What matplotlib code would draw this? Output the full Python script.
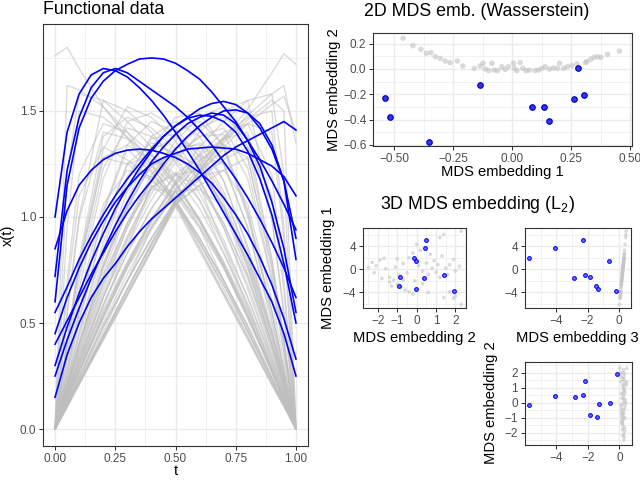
"""Functional data curves next to 2D / 3D MDS embeddings, redrawn with matplotlib."""

from __future__ import annotations

import matplotlib

matplotlib.use("Agg")
import matplotlib.pyplot as plt

OUT_PATH = "out.png"
W_PX, H_PX = 640, 480

# ---------------------------------------------------------------- functional data
T_GRAY = [0.0, 0.05, 0.1, 0.2, 0.3, 0.4, 0.5, 0.6, 0.7, 0.8, 0.9, 0.95, 1.0]
GRAY_CURVES = [
    [1.76, 1.80, 1.70, 1.52, 1.37, 1.22, 1.06, 0.88, 0.68, 0.46, 0.23, 0.12, 0.0],
    [0.0, 0.10, 0.21, 0.42, 0.63, 0.84, 1.05, 1.22, 1.37, 1.51, 1.68, 1.77, 1.72],
    [0.0, 0.11, 0.22, 0.44, 0.66, 0.87, 1.06, 1.22, 1.36, 1.48, 1.58, 1.62, 1.35],
    [0.0, 0.11, 0.22, 0.44, 0.66, 0.87, 1.07, 1.21, 1.33, 1.44, 1.53, 1.57, 1.40],
    [0.0, 0.11, 0.22, 0.44, 0.66, 0.87, 1.07, 1.22, 1.35, 1.46, 1.55, 1.50, 0.0],
    [0.0, 1.62, 1.60, 1.52, 1.40, 1.25, 1.07, 0.88, 0.68, 0.46, 0.23, 0.12, 0.0],
    [0.0, 1.20, 1.58, 1.55, 1.45, 1.33, 1.17, 0.98, 0.77, 0.53, 0.28, 0.14, 0.0],
    [0.0, 0.95, 1.50, 1.47, 1.38, 1.24, 1.08, 0.90, 0.70, 0.49, 0.25, 0.13, 0.0],
    [0.0, 0.70, 1.20, 1.44, 1.40, 1.30, 1.16, 0.99, 0.79, 0.56, 0.30, 0.15, 0.0],
    [0.0, 0.55, 1.00, 1.55, 1.50, 1.40, 1.26, 1.08, 0.87, 0.62, 0.33, 0.17, 0.0],
    [0.0, 0.54, 0.99, 1.40, 1.37, 1.29, 1.16, 0.99, 0.78, 0.54, 0.27, 0.14, 0.0],
    [0.0, 0.41, 0.77, 1.28, 1.25, 1.17, 1.07, 0.86, 0.64, 0.43, 0.21, 0.11, 0.0],
    [0.0, 0.42, 0.80, 1.38, 1.47, 1.42, 1.32, 1.17, 0.97, 0.72, 0.40, 0.21, 0.0],
    [0.0, 0.37, 0.71, 1.23, 1.42, 1.38, 1.28, 1.11, 0.89, 0.62, 0.32, 0.16, 0.0],
    [0.0, 0.28, 0.55, 1.02, 1.32, 1.21, 1.07, 0.90, 0.70, 0.48, 0.24, 0.12, 0.0],
    [0.0, 0.32, 0.61, 1.06, 1.22, 1.19, 1.10, 0.95, 0.76, 0.53, 0.27, 0.14, 0.0],
    [0.0, 0.34, 0.66, 1.18, 1.45, 1.49, 1.42, 1.28, 1.07, 0.80, 0.45, 0.23, 0.0],
    [0.0, 0.28, 0.56, 1.03, 1.34, 1.45, 1.40, 1.26, 1.03, 0.73, 0.38, 0.19, 0.0],
    [0.0, 0.26, 0.52, 0.95, 1.25, 1.35, 1.30, 1.17, 0.95, 0.68, 0.35, 0.18, 0.0],
    [0.0, 0.20, 0.40, 0.76, 1.05, 1.25, 1.13, 0.96, 0.76, 0.52, 0.27, 0.13, 0.0],
    [0.0, 0.14, 0.29, 0.58, 0.86, 1.15, 1.06, 0.85, 0.64, 0.43, 0.21, 0.11, 0.0],
    [0.0, 0.23, 0.46, 0.88, 1.19, 1.37, 1.39, 1.29, 1.10, 0.82, 0.46, 0.24, 0.0],
    [0.0, 0.105, 0.21, 0.42, 0.63, 0.84, 1.05, 0.84, 0.63, 0.42, 0.21, 0.105, 0.0],
    [0.0, 0.12, 0.24, 0.48, 0.70, 0.90, 1.08, 0.90, 0.70, 0.48, 0.24, 0.12, 0.0],
    [0.0, 0.14, 0.28, 0.55, 0.78, 0.98, 1.12, 0.98, 0.78, 0.55, 0.28, 0.14, 0.0],
    [0.0, 0.19, 0.37, 0.71, 0.97, 1.14, 1.20, 1.14, 0.97, 0.71, 0.37, 0.19, 0.0],
    [0.0, 0.20, 0.40, 0.76, 1.05, 1.24, 1.30, 1.24, 1.05, 0.76, 0.40, 0.20, 0.0],
    [0.0, 0.22, 0.43, 0.81, 1.12, 1.31, 1.38, 1.31, 1.12, 0.81, 0.43, 0.22, 0.0],
    [0.0, 0.23, 0.45, 0.85, 1.17, 1.38, 1.45, 1.38, 1.17, 0.85, 0.45, 0.23, 0.0],
    [0.0, 0.15, 0.30, 0.58, 0.83, 1.04, 1.20, 1.22, 1.05, 0.78, 0.43, 0.22, 0.0],
    [0.0, 0.13, 0.27, 0.52, 0.76, 0.96, 1.13, 1.25, 1.05, 0.76, 0.40, 0.20, 0.0],
    [0.0, 0.18, 0.35, 0.68, 0.95, 1.17, 1.30, 1.35, 1.25, 0.95, 0.52, 0.26, 0.0],
    [0.0, 0.19, 0.38, 0.73, 1.03, 1.26, 1.40, 1.45, 1.34, 1.03, 0.56, 0.28, 0.0],
    [0.0, 0.11, 0.22, 0.43, 0.64, 0.85, 1.06, 1.15, 0.86, 0.58, 0.29, 0.14, 0.0],
    [0.0, 0.17, 0.33, 0.64, 0.91, 1.13, 1.29, 1.38, 1.39, 1.18, 0.70, 0.36, 0.0],
    [0.0, 0.16, 0.32, 0.62, 0.89, 1.11, 1.28, 1.38, 1.42, 1.23, 0.71, 0.37, 0.0],
    [0.0, 0.12, 0.24, 0.48, 0.70, 0.90, 1.07, 1.21, 1.32, 1.02, 0.55, 0.28, 0.0],
    [0.0, 0.14, 0.27, 0.53, 0.76, 0.95, 1.10, 1.19, 1.22, 1.06, 0.61, 0.32, 0.0],
    [0.0, 0.21, 0.40, 0.72, 0.97, 1.17, 1.32, 1.42, 1.47, 1.38, 0.80, 0.42, 0.0],
    [0.0, 0.17, 0.33, 0.62, 0.87, 1.08, 1.26, 1.40, 1.50, 1.55, 1.00, 0.55, 0.0],
    [0.0, 0.14, 0.27, 0.54, 0.78, 0.99, 1.16, 1.29, 1.37, 1.40, 0.99, 0.54, 0.0],
    [0.0, 0.11, 0.22, 0.43, 0.64, 0.85, 1.06, 1.15, 1.22, 1.28, 0.77, 0.41, 0.0],
    [0.0, 0.12, 0.25, 0.50, 0.73, 0.94, 1.12, 1.26, 1.37, 1.44, 1.40, 0.90, 0.0],
    [0.0, 0.14, 0.28, 0.53, 0.77, 0.98, 1.17, 1.33, 1.45, 1.55, 1.58, 1.20, 0.0],
    [0.0, 0.13, 0.25, 0.49, 0.70, 0.90, 1.08, 1.24, 1.38, 1.47, 1.50, 0.95, 0.0],
    [0.0, 0.15, 0.30, 0.56, 0.79, 0.99, 1.16, 1.30, 1.40, 1.44, 1.20, 0.70, 0.0],
    [0.0, 0.20, 0.40, 0.78, 1.05, 1.13, 1.12, 0.95, 0.70, 0.46, 0.23, 0.12, 0.0],
    [0.0, 0.12, 0.23, 0.46, 0.70, 0.95, 1.12, 1.13, 1.05, 0.78, 0.40, 0.20, 0.0],
    [0.0, 0.15, 0.31, 0.62, 0.90, 1.14, 1.21, 1.08, 0.83, 0.57, 0.29, 0.15, 0.0],
    [0.0, 0.18, 0.36, 0.69, 0.97, 1.20, 1.33, 1.34, 1.17, 0.86, 0.47, 0.24, 0.0],
    [0.0, 0.25, 0.50, 0.95, 1.25, 1.29, 1.20, 1.04, 0.83, 0.59, 0.31, 0.16, 0.0],
    [0.0, 0.16, 0.31, 0.59, 0.83, 1.04, 1.20, 1.29, 1.25, 0.95, 0.50, 0.25, 0.0],
    [0.0, 0.40, 0.75, 1.28, 1.34, 1.27, 1.15, 0.98, 0.77, 0.53, 0.27, 0.14, 0.0],
    [0.0, 0.14, 0.27, 0.53, 0.77, 0.98, 1.15, 1.27, 1.34, 1.28, 0.75, 0.40, 0.0],
    [0.0, 0.65, 1.10, 1.33, 1.27, 1.18, 1.08, 0.88, 0.66, 0.44, 0.22, 0.11, 0.0],
    [0.0, 0.11, 0.22, 0.44, 0.66, 0.88, 1.08, 1.18, 1.27, 1.33, 1.10, 0.65, 0.0],
    [0.0, 0.20, 0.40, 0.77, 1.08, 1.33, 1.47, 1.49, 1.33, 1.00, 0.55, 0.28, 0.0],
    [0.0, 0.17, 0.34, 0.66, 0.95, 1.18, 1.36, 1.47, 1.52, 1.33, 0.80, 0.42, 0.0],
    [0.0, 0.40, 0.78, 1.32, 1.52, 1.47, 1.36, 1.18, 0.95, 0.66, 0.34, 0.17, 0.0],
]

T_BLUE = [0.0, 0.05, 0.1, 0.15, 0.2, 0.25, 0.3, 0.35, 0.4, 0.45, 0.5,
          0.55, 0.6, 0.65, 0.7, 0.75, 0.8, 0.85, 0.9, 0.95, 1.0]
BLUE_CURVES = [
    [1.00, 1.40, 1.58, 1.67, 1.70, 1.69, 1.66, 1.61, 1.55, 1.48, 1.40,
     1.31, 1.22, 1.12, 1.02, 0.92, 0.82, 0.71, 0.60, 0.45, 0.25],
    [0.72, 1.22, 1.47, 1.61, 1.68, 1.70, 1.68, 1.64, 1.60, 1.56, 1.52,
     1.47, 1.41, 1.34, 1.26, 1.18, 1.09, 0.99, 0.88, 0.76, 0.62],
    [0.60, 1.15, 1.42, 1.56, 1.64, 1.69, 1.72, 1.745, 1.75, 1.745, 1.725,
     1.69, 1.65, 1.59, 1.52, 1.45, 1.36, 1.27, 1.17, 1.06, 0.94],
    [0.55, 0.67, 0.80, 0.91, 1.01, 1.10, 1.18, 1.25, 1.32, 1.38, 1.43,
     1.47, 1.51, 1.535, 1.545, 1.53, 1.49, 1.42, 1.32, 1.17, 0.90],
    [0.40, 0.51, 0.62, 0.73, 0.83, 0.93, 1.02, 1.10, 1.17, 1.25, 1.32,
     1.38, 1.43, 1.47, 1.50, 1.505, 1.49, 1.44, 1.34, 1.17, 0.80],
    [0.25, 0.42, 0.57, 0.71, 0.84, 0.96, 1.07, 1.17, 1.26, 1.33, 1.39,
     1.44, 1.47, 1.49, 1.48, 1.44, 1.36, 1.24, 1.07, 0.85, 0.55],
    [0.15, 0.35, 0.50, 0.62, 0.71, 0.78, 0.86, 0.93, 0.99, 1.04, 1.09,
     1.14, 1.19, 1.24, 1.29, 1.33, 1.36, 1.39, 1.42, 1.45, 1.41],
    [0.85, 1.03, 1.15, 1.22, 1.27, 1.30, 1.315, 1.32, 1.315, 1.30, 1.28,
     1.25, 1.21, 1.16, 1.09, 1.01, 0.92, 0.81, 0.68, 0.52, 0.33],
    [0.45, 0.62, 0.76, 0.88, 0.98, 1.07, 1.14, 1.20, 1.25, 1.28, 1.30,
     1.32, 1.325, 1.33, 1.325, 1.32, 1.30, 1.27, 1.24, 1.19, 1.10],
    [0.30, 0.48, 0.64, 0.79, 0.92, 1.04, 1.14, 1.23, 1.31, 1.38, 1.43,
     1.465, 1.48, 1.475, 1.45, 1.40, 1.31, 1.18, 1.01, 0.78, 0.50],
]

# ---------------------------------------------------------------- 2D MDS (Wasserstein)
WASS_GRAY_X = [-0.463, -0.421, -0.387, -0.364, -0.345, -0.326, -0.305, -0.284, -0.263,
               -0.232, -0.209, -0.161, -0.136, -0.124, -0.114, -0.100, -0.086, -0.076,
               -0.062, -0.044, -0.030, -0.016, 0.006, 0.010, 0.020, 0.034, 0.045, 0.059,
               0.073, 0.097, 0.112, 0.126, 0.140, 0.158, 0.175, 0.192, 0.201, 0.218,
               0.234, 0.253, 0.274, 0.312, 0.316, 0.333, 0.347, 0.362, 0.376, 0.405, 0.455]
WASS_GRAY_Y = [0.243, 0.184, 0.155, 0.124, 0.129, 0.097, 0.084, 0.063, 0.050,
               0.063, 0.024, 0.005, 0.024, 0.045, 0.000, -0.013, 0.045, -0.008,
               -0.013, 0.018, -0.003, 0.018, 0.045, 0.005, -0.013, 0.050, 0.005, -0.013,
               -0.008, -0.013, -0.008, 0.005, 0.018, 0.000, 0.008, 0.005, 0.045, 0.005,
               0.018, 0.026, 0.040, 0.050, 0.058, 0.076, 0.092, 0.097, 0.092, 0.116, 0.142]
WASS_BLUE_X = [-0.538, -0.517, -0.352, -0.136, 0.083, 0.133, 0.158, 0.263, 0.281, 0.305]
WASS_BLUE_Y = [-0.232, -0.382, -0.580, -0.126, -0.303, -0.298, -0.408, -0.240, 0.010, -0.208]

# ---------------------------------------------------------------- 3D MDS (L2)
L2_GRAY_E1 = [0.3, 1.2, 0.6, 1.6, 1.9, 0.1, -0.6, -1.6, -1.4, -1.9, -2.6, -3.1, -3.6, -3.9,
              -4.3, -2.2, -1.0, -0.6, 0.4, 1.0, 2.0, 2.8, 4.3, 3.3, 0.6, -0.3, 1.1, -0.9,
              0.2, 1.5, -0.5, 0.8, -1.4, 2.3, 6.0, 5.5, 0.2, -0.9, 0.8, 1.7, -0.3, 0.5,
              6.6, -4.9, -5.0, -4.6, -6.1, -3.9, -2.5, -2.0, -4.0, -2.9, -1.9, 2.6, 1.8]
L2_GRAY_E2 = [-2.5, -2.3, -2.1, -1.9, -1.7, -1.6, -2.2, -1.8, -1.4, -1.2, -1.0, -0.8, -0.6,
              -0.4, -0.2, -1.4, -0.9, -0.5, -1.1, -0.7, -0.4, -0.2, 0.0, 0.2, 0.1, 0.3, 0.5,
              0.6, 0.8, 0.9, 1.0, 1.1, 1.2, 1.3, 1.4, 1.2, 1.5, 1.6, 1.7, 1.9, 2.0, 2.2,
              2.3, 1.4, 1.9, 2.0, 2.3, 1.7, 0.3, -0.1, 0.6, -1.3, -0.7, 0.7, -1.0]
L2_GRAY_E3 = [0.28, 0.31, 0.27, 0.33, 0.34, 0.25, 0.22, 0.20, 0.21, 0.18, 0.16, 0.15, 0.13,
              0.12, 0.11, 0.17, 0.23, 0.24, 0.27, 0.29, 0.33, 0.36, 0.40, 0.37, 0.28, 0.25,
              0.30, 0.22, 0.26, 0.31, 0.24, 0.29, 0.21, 0.34, 0.45, 0.44, 0.26, 0.23, 0.28,
              0.32, 0.25, 0.27, 0.47, 0.09, 0.08, 0.10, 0.03, 0.12, 0.17, 0.19, 0.12, 0.15,
              0.19, 0.35, 0.32]
L2_BLUE_E1 = [5.07, 3.69, 1.98, 1.52, -1.38, -1.51, -1.02, -2.83, -3.35, -3.84]
L2_BLUE_E2 = [0.50, 0.44, -0.16, -0.02, -0.84, 0.35, 1.42, -0.94, -0.06, 1.92]
L2_BLUE_E3 = [-2.32, -4.10, -5.72, -0.61, -1.86, -2.85, -2.18, -1.45, -1.31, -0.16]

# ---------------------------------------------------------------- look
GRID = "#ebebeb"
BORDER = "#333333"
TICK_TEXT = "#4d4d4d"
GRAY_LINE = "#bebebe"
BLUE = "#0000ff"


def px_box(left, top, right, bottom):
    """Axes rectangle given in pixel coordinates measured from the top-left."""
    return [left / W_PX, 1 - bottom / H_PX, (right - left) / W_PX, (bottom - top) / H_PX]


def style_axes(ax, xlim, ylim, xticks, xlabels, yticks, ylabels, xminor, yminor):
    ax.set_xlim(xlim)
    ax.set_ylim(ylim)
    ax.set_xticks(xticks)
    ax.set_xticklabels(xlabels)
    ax.set_yticks(yticks)
    ax.set_yticklabels(ylabels)
    ax.set_xticks(xminor, minor=True)
    ax.set_yticks(yminor, minor=True)
    ax.grid(which="major", color=GRID, linewidth=1.0)
    ax.grid(which="minor", color=GRID, linewidth=0.5)
    ax.set_axisbelow(True)
    ax.tick_params(which="major", length=3.0, width=0.75, color=BORDER,
                   labelcolor=TICK_TEXT, labelsize=8.5, pad=2)
    ax.tick_params(which="minor", length=0)
    for spine in ax.spines.values():
        spine.set_color(BORDER)
        spine.set_linewidth(0.8)


def fig_text(fig, x_px, y_px, text, size=10.6, **kwargs):
    fig.text(x_px / W_PX, 1 - y_px / H_PX, text, fontsize=size,
             ha=kwargs.pop("ha", "center"), va=kwargs.pop("va", "center"), **kwargs)


def draw_functional(fig):
    ax = fig.add_axes(px_box(43, 24, 308, 446))
    for curve in GRAY_CURVES:
        ax.plot(T_GRAY, curve, color=GRAY_LINE, alpha=0.55, linewidth=1.0)
    for curve in BLUE_CURVES:
        ax.plot(T_BLUE, curve, color=BLUE, linewidth=1.2)
    style_axes(ax, (-0.05, 1.05), (-0.08, 1.91),
               [0, 0.25, 0.5, 0.75, 1.0], ["0.00", "0.25", "0.50", "0.75", "1.00"],
               [0, 0.5, 1.0, 1.5], ["0.0", "0.5", "1.0", "1.5"],
               [0.125, 0.375, 0.625, 0.875], [0.25, 0.75, 1.25, 1.75])
    fig_text(fig, 43, 10, "Functional data", size=12.8, ha="left")
    fig_text(fig, 8, 235, "x(t)", rotation=90)
    fig_text(fig, 175.5, 471, "t")


def draw_wasserstein(fig):
    ax = fig.add_axes(px_box(373.3, 33.3, 631.7, 145.7))
    ax.scatter(WASS_GRAY_X, WASS_GRAY_Y, s=16, color="#bdbdbd", alpha=0.55,
               edgecolors="none")
    ax.scatter(WASS_BLUE_X, WASS_BLUE_Y, s=16, facecolor="#3333ff",
               edgecolors="#0000aa", linewidths=0.8, zorder=3)
    style_axes(ax, (-0.589, 0.507), (-0.606, 0.282),
               [-0.5, -0.25, 0, 0.25, 0.5], ["\u22120.50", "\u22120.25", "0.00", "0.25", "0.50"],
               [-0.6, -0.4, -0.2, 0, 0.2], ["\u22120.6", "\u22120.4", "\u22120.2", "0.0", "0.2"],
               [-0.375, -0.125, 0.125, 0.375], [-0.5, -0.3, -0.1, 0.1])
    fig_text(fig, 477, 12, "2D MDS emb. (Wasserstein)", size=12.8)
    fig_text(fig, 502.5, 172, "MDS embedding 1")
    fig_text(fig, 334, 89.5, "MDS embedding 2", rotation=90)


def small_scatter(ax, gx, gy, bx, by):
    ax.scatter(gx, gy, s=7, color="#c4c4c4", alpha=0.6, edgecolors="none")
    ax.scatter(bx, by, s=7, facecolor="#7777ff", edgecolors=BLUE,
               linewidths=0.8, zorder=3)


def draw_l2(fig):
    e1_ticks, e1_labels = [-4, 0, 4], ["\u22124", "0", "4"]
    e3_ticks, e3_labels = [-4, -2, 0], ["\u22124", "\u22122", "0"]

    ax1 = fig.add_axes(px_box(363.3, 227.7, 465.7, 308.3))
    small_scatter(ax1, L2_GRAY_E2, L2_GRAY_E1, L2_BLUE_E2, L2_BLUE_E1)
    style_axes(ax1, (-2.76, 2.53), (-6.75, 7.2),
               [-2, -1, 0, 1, 2], ["\u22122", "\u22121", "0", "1", "2"],
               e1_ticks, e1_labels,
               [-2.5, -1.5, -0.5, 0.5, 1.5, 2.5], [-6, -2, 2, 6])

    ax2 = fig.add_axes(px_box(525, 227.7, 631, 308.3))
    small_scatter(ax2, L2_GRAY_E3, L2_GRAY_E1, L2_BLUE_E3, L2_BLUE_E1)
    style_axes(ax2, (-6.0, 0.78), (-6.75, 7.2),
               e3_ticks, e3_labels, e1_ticks, e1_labels,
               [-5, -3, -1], [-6, -2, 2, 6])

    ax3 = fig.add_axes(px_box(525, 361.7, 631.7, 445))
    small_scatter(ax3, L2_GRAY_E3, L2_GRAY_E2, L2_BLUE_E3, L2_BLUE_E2)
    style_axes(ax3, (-6.0, 0.78), (-2.82, 2.73),
               e3_ticks, e3_labels,
               [-2, -1, 0, 1, 2], ["\u22122", "\u22121", "0", "1", "2"],
               [-5, -3, -1], [-2.5, -1.5, -0.5, 0.5, 1.5, 2.5])

    fig_text(fig, 478, 205, "3D MDS embedding (L$_2$)", size=12.8)
    fig_text(fig, 414.5, 338, "MDS embedding 2")
    fig_text(fig, 577, 338, "MDS embedding 3")
    fig_text(fig, 328, 268, "MDS embedding 1", rotation=90)
    fig_text(fig, 491.5, 403, "MDS embedding 2", rotation=90)


def main() -> None:
    plt.rcParams["font.family"] = ["Liberation Sans", "DejaVu Sans"]
    plt.rcParams["mathtext.default"] = "regular"
    fig = plt.figure(figsize=(W_PX / 100, H_PX / 100), dpi=100)
    draw_functional(fig)
    draw_wasserstein(fig)
    draw_l2(fig)
    fig.savefig(OUT_PATH, dpi=100)
    plt.close(fig)


if __name__ == "__main__":
    main()
